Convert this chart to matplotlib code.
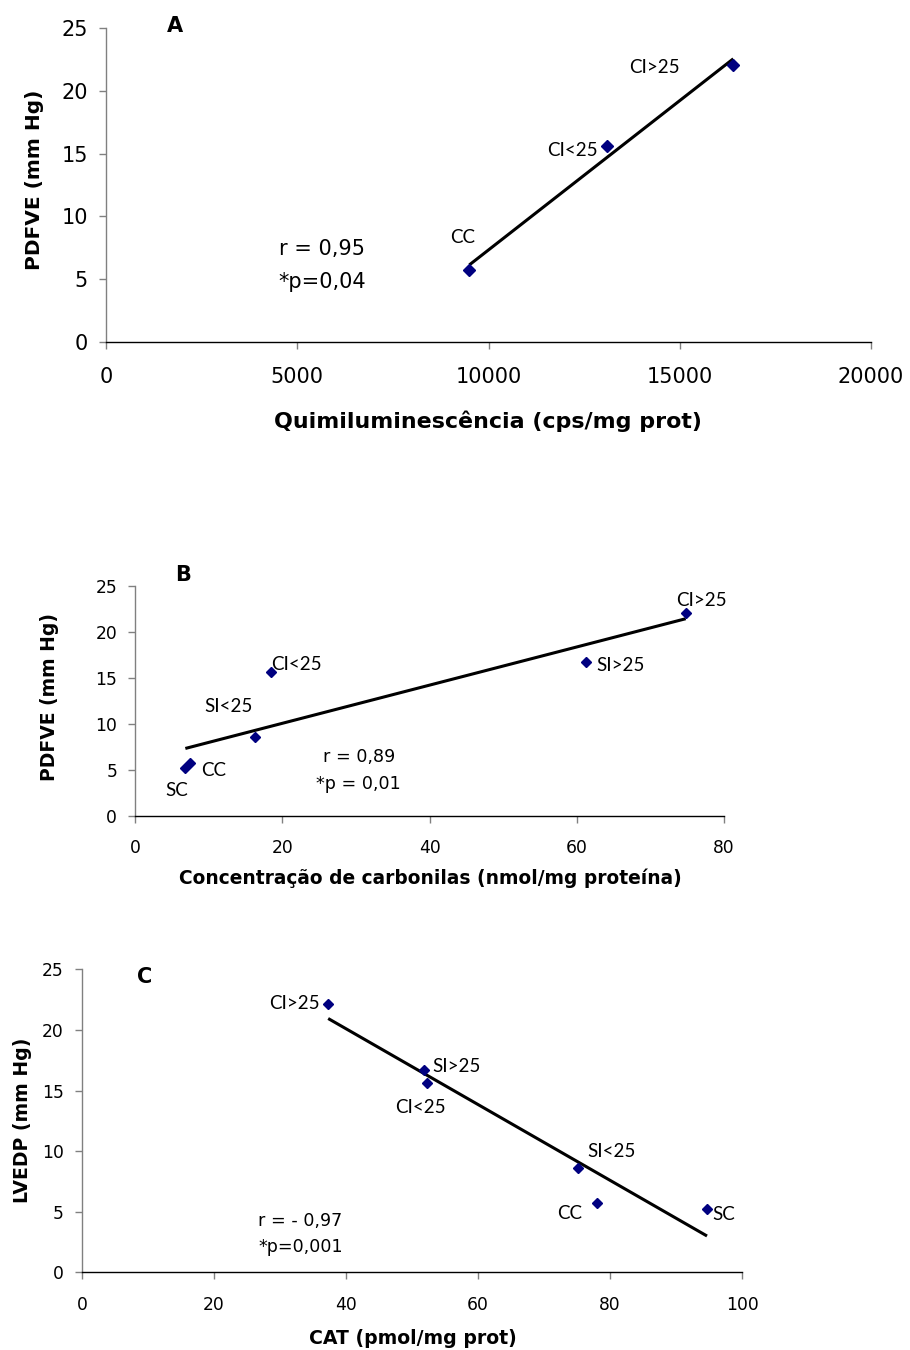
import matplotlib
matplotlib.use("Agg")
import matplotlib.pyplot as plt
import numpy as np

# ---- Data ----
groups_A = ["CC", "CI<25", "CI>25"]
quimi_A = [9500, 13100, 16400]
pdfve_A = [5.7, 15.6, 22.1]

groups_B = ["SC", "CC", "SI<25", "CI<25", "SI>25", "CI>25"]
carbon_B = [6.8, 7.5, 16.3, 18.5, 61.3, 74.8]
pdfve_B = [5.2, 5.7, 8.6, 15.6, 16.7, 22.1]

groups_C = ["CI>25", "SI>25", "CI<25", "SI<25", "CC", "SC"]
cat_C = [37.3, 51.8, 52.3, 75.2, 78.0, 94.7]
lvedp_C = [22.1, 16.7, 15.6, 8.6, 5.7, 5.2]

xticks_A = [0, 5000, 10000, 15000, 20000]
xticks_B = [0, 20, 40, 60, 80]
xticks_C = [0, 20, 40, 60, 80, 100]
yticks = [0, 5, 10, 15, 20, 25]

# label positions (data coords) for point labels
lab_pos_A = [(9324, 8.32), (12203, 15.29), (14327, 21.89)]
lab_pos_B = [(5.68, 2.72), (10.68, 4.97), (12.7, 11.87), (21.84, 16.5), (65.9, 16.4), (76.96, 23.4)]
lab_pos_C = [(32.2, 22.2), (56.8, 17.0), (51.3, 13.57), (80.3, 9.99), (73.9, 4.82), (97.3, 4.74)]

W, H = 910, 1350
fig = plt.figure(figsize=(W / 100, H / 100), dpi=100)

TICKF = "DejaVu Sans"
LABF = ["Lato", "DejaVu Sans"]


def make_ax(l, r, t, b):
    return fig.add_axes([l / W, 1 - b / H, (r - l) / W, (b - t) / H])


def style(ax, xt, xlim, fs, xpad):
    ax.set_xlim(*xlim)
    ax.set_ylim(0, 25)
    ax.set_xticks(xt)
    ax.set_yticks(yticks)
    for s in ["top", "right"]:
        ax.spines[s].set_visible(False)
    ax.spines["left"].set_color("#808080")
    ax.spines["left"].set_linewidth(1.0)
    ax.spines["bottom"].set_color("black")
    ax.spines["bottom"].set_linewidth(1.0)
    ax.tick_params(axis="both", direction="out", length=5, width=1, color="#808080",
                   labelsize=fs)
    ax.tick_params(axis="x", pad=xpad)
    ax.tick_params(axis="y", pad=8)
    for lab in ax.get_xticklabels() + ax.get_yticklabels():
        lab.set_fontfamily(TICKF)
    ax.patch.set_alpha(0)


def scatter_fit(ax, x, y, ms):
    x = np.array(x, float)
    y = np.array(y, float)
    k, c = np.polyfit(x, y, 1)
    xs = np.array([x.min(), x.max()])
    ax.plot(xs, k * xs + c, color="black", lw=2.2, solid_capstyle="butt", zorder=2)
    ax.plot(x, y, linestyle="none", marker="D", color="#000080", ms=ms, zorder=3,
            clip_on=False)


# ---- Panel A ----
axA = make_ax(106, 871, 28.3, 341.7)
scatter_fit(axA, quimi_A, pdfve_A, 6)
style(axA, xticks_A, (0, 20000), 15, 13.5)
for g, (tx, ty) in zip(groups_A, lab_pos_A):
    axA.text(tx, ty, g, fontsize=13.5, family=LABF, ha="center", va="center")
axA.text(1807, 25.19, "A", fontsize=15, family=TICKF, weight="bold", ha="center", va="center")
axA.text(4510, 7.37, "r = 0,95", fontsize=15, family=TICKF, ha="left", va="center")
axA.text(4510, 4.79, "*p=0,04", fontsize=15, family=TICKF, ha="left", va="center")
fig.text(488 / W, 1 - 421.7 / H, "Quimiluminescência (cps/mg prot)", fontsize=15.9,
         family=TICKF, weight="bold", ha="center", va="center")
fig.text(35 / W, 1 - 180 / H, "PDFVE (mm Hg)", fontsize=14.5, family=TICKF, weight="bold",
         ha="center", va="center", rotation=90)

# ---- Panel B ----
axB = make_ax(135.3, 724, 586, 815.7)
scatter_fit(axB, carbon_B, pdfve_B, 5.5)
style(axB, xticks_B, (0, 80), 12.3, 11.5)
for g, (tx, ty) in zip(groups_B, lab_pos_B):
    axB.text(tx, ty, g, fontsize=13.5, family=LABF, ha="center", va="center")
axB.text(6.49, 26.2, "B", fontsize=15, family=TICKF, weight="bold", ha="center", va="center")
axB.text(30.43, 6.35, "r = 0,89", fontsize=12.6, family=TICKF, ha="center", va="center")
axB.text(30.3, 3.41, "*p = 0,01", fontsize=12.6, family=TICKF, ha="center", va="center")
fig.text(430 / W, 1 - 878 / H, "Concentração de carbonilas (nmol/mg proteína)", fontsize=13.4,
         family=TICKF, weight="bold", ha="center", va="center")
fig.text(50 / W, 1 - 697 / H, "PDFVE (mm Hg)", fontsize=13.5, family=TICKF, weight="bold",
         ha="center", va="center", rotation=90)

# ---- Panel C ----
axC = make_ax(82, 742, 969.3, 1272.3)
scatter_fit(axC, cat_C, lvedp_C, 5.5)
style(axC, xticks_C, (0, 100), 12.3, 12)
for g, (tx, ty) in zip(groups_C, lab_pos_C):
    axC.text(tx, ty, g, fontsize=13.5, family=LABF, ha="center", va="center")
axC.text(9.55, 24.4, "C", fontsize=15, family=TICKF, weight="bold", ha="center", va="center")
axC.text(33.1, 4.27, "r = - 0,97", fontsize=12.6, family=TICKF, ha="center", va="center")
axC.text(33.1, 2.06, "*p=0,001", fontsize=12.6, family=TICKF, ha="center", va="center")
fig.text(413 / W, 1 - 1339 / H, "CAT (pmol/mg prot)", fontsize=13.6,
         family=TICKF, weight="bold", ha="center", va="center")
fig.text(23 / W, 1 - 1120 / H, "LVEDP (mm Hg)", fontsize=13.6, family=TICKF, weight="bold",
         ha="center", va="center", rotation=90)

fig.savefig("out.png", dpi=100, facecolor="white")
